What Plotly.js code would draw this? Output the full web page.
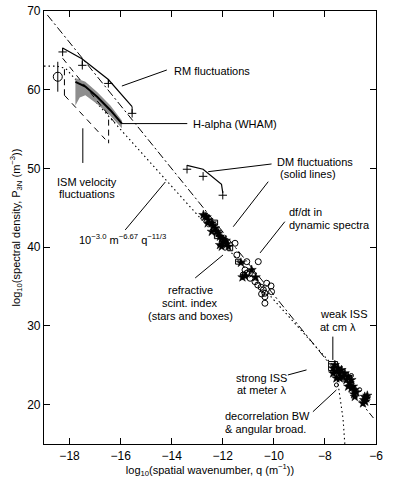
<!DOCTYPE html>
<html>
<head>
<meta charset="utf-8">
<script src="https://cdn.plot.ly/plotly-3.0.1.min.js"></script>
<style>
  body { margin: 0; background: #fff; }
  #chart { width: 399px; height: 485px; }
</style>
</head>
<body>
<div id="chart"></div>
<script>
"use strict";

// Kolmogorov-type reference lines
var dotX = [-19, -18.5, -18.15, -7.7, -7.5, -7.38, -7.29, -7.22];
var dotY = [63.0, 63.0, 62.7, 25.0, 23.0, 20.4, 18.2, 15.0];
var dashdotX = [-18.87, -6.1];
var dashdotY = [69.5, 18.3];

// RM fluctuations (line over top, markers below)
var rmX = [-18.27, -17.5, -16.48, -15.55];
var rmTop = [65.3, 63.9, 61.3, 57.85];
var rmLow = [64.8, 63.1, 60.8, 57.0];

// DM fluctuations
var dmX = [-13.4, -12.77, -12.0];
var dmTop = [50.4, 49.9, 46.9];
var dmLow = [49.9, 49.0, 46.6];

// H-alpha (WHAM) band and centre curve
var haX = [-17.77, -17.38, -16.92, -16.40, -15.95];
var haMid = [61.0, 60.4, 59.1, 57.4, 55.7];
var haUp = [61.5, 61.0, 59.7, 58.0, 56.1];
var haLowX = [-17.77, -17.6, -17.38, -16.92, -16.40, -15.95];
var haLow = [58.0, 59.0, 59.3, 58.2, 56.7, 55.1];

// ISM velocity fluctuations box (dashed)
var ismUpX = [-18.27, -16.2];
var ismUpY = [64.0, 55.7];
var ismLoX = [-18.2, -16.6];
var ismLoY = [59.3, 53.7];
var ismLeftX = [-18.2, -18.2];
var ismLeftY = [62.6, 59.3];
var ismRightX = [-16.47, -16.47];
var ismRightY = [56.2, 53.2];

// single points with error bars
var errX = [-18.46];
var errY = [61.65];
var errE = [1.9];
var capX = [-11.84, -8.2];
var capY = [43.7, 24.9];

// refractive scintillation index: stars and boxes
var starX = [-12.76, -12.69, -12.63, -12.56, -12.59, -12.43, -12.37, -12.30, -12.43, -12.23,
  -12.17, -12.11, -12.04, -11.98, -11.94, -11.88, -11.84, -12.11, -12.04, -11.78,
  -11.29, -10.87, -10.71, -11.13, -11.23,
  -7.68, -7.61, -7.55, -7.48, -7.42, -7.35, -7.29, -7.22, -7.16, -7.09,
  -7.03, -6.96, -6.90, -6.96, -7.09, -6.83, -6.77, -6.86, -6.83, -7.68,
  -7.55, -7.42, -6.44, -6.38, -6.42, -6.47, -6.34, -6.51];
var starY = [44.09, 43.88, 43.80, 43.46, 43.04, 43.04, 42.70, 42.40, 41.97, 41.97,
  41.77, 41.34, 41.13, 40.92, 40.57, 40.83, 40.41, 40.28, 40.07, 40.07,
  38.03, 37.11, 36.18, 36.35, 36.18,
  24.62, 25.04, 24.2, 24.62, 23.98, 24.4, 23.56, 23.98, 23.14, 23.56,
  22.72, 23.14, 22.3, 22.09, 22.3, 21.87, 21.57, 21.32, 21.0, 23.98,
  23.35, 23.35, 21.0, 20.8, 20.38, 20.59, 21.14, 20.17];
var boxX = [-12.30, -12.23, -11.71, -11.40];
var boxY = [43.12, 41.4, 39.86, 38.16];
var weakX = [-7.68];
var weakY = [24.9];

// df/dt in dynamic spectra: open circles
var circX = [-11.52, -10.61, -11.45, -11.06, -11.13, -11.06, -10.93, -10.74, -10.63, -10.50,
  -10.41, -10.35, -10.48, -10.28, -10.11, -10.09, -10.35, -10.35, -11.2, -10.96];
var circY = [40.50, 38.16, 39.01, 38.16, 37.11, 36.69, 36.05, 35.62, 35.20, 34.91,
  34.57, 34.15, 34.06, 35.42, 35.08, 34.35, 33.7, 32.88, 36.47, 36.6];

// decorrelation bandwidth / angular broadening
var decX = [-7.55, -6.96, -6.64];
var decY = [22.5, 23.7, 21.9];

// DM structure-function pieces (short solid lines)
var curl1X = [-11.35, -11.22, -11.18];
var curl1Y = [38.4, 38.2, 37.8];
var curl2X = [-10.9, -10.78, -10.75];
var curl2Y = [37.4, 37.2, 36.8];

var K = 'black';
function ln(x, y, dash, w) {
  return {x: x, y: y, mode: 'lines', line: {color: K, width: w || 1, dash: dash || 'solid'},
          hoverinfo: 'skip', showlegend: false};
}

var traces = [];
traces.push(ln(dotX, dotY, '1.5px,3px', 1.1));
traces.push(ln(dashdotX, dashdotY, '8px,3px,2px,3px', 1));

traces.push({
  x: haX.concat(haLowX.slice().reverse()),
  y: haUp.concat(haLow.slice().reverse()),
  mode: 'lines', fill: 'toself', fillcolor: '#8e8e8e',
  line: {width: 0, color: '#8e8e8e'}, hoverinfo: 'skip', showlegend: false
});
traces.push(ln(haX, haMid, 'solid', 2));

traces.push(ln(ismUpX, ismUpY, '6px,5px', 1));
traces.push(ln(ismLoX, ismLoY, '6px,5px', 1));
traces.push(ln(ismLeftX, ismLeftY, '6px,4px', 1));
traces.push(ln(ismRightX, ismRightY, '6px,4px', 1));

traces.push(ln(rmX, rmTop, 'solid', 1.2));
traces.push({
  x: rmX, y: rmLow, mode: 'markers',
  marker: {symbol: 'cross-thin-open', size: 6, color: K, line: {color: K, width: 1}},
  error_y: {type: 'data', symmetric: false,
            array: rmTop.map(function (t, i) { return t - rmLow[i]; }),
            arrayminus: rmTop.map(function () { return 0; }),
            color: K, thickness: 1, width: 0},
  hoverinfo: 'skip', showlegend: false
});

traces.push(ln(dmX.slice(0, 2).concat([-12.05, -12.0]), dmTop.slice(0, 2).concat([48.0, dmTop[2]]), 'solid', 1.2));
traces.push({
  x: dmX, y: dmLow, mode: 'markers',
  marker: {symbol: 'cross-thin-open', size: 6, color: K, line: {color: K, width: 1}},
  hoverinfo: 'skip', showlegend: false
});

traces.push({
  x: errX, y: errY, mode: 'markers',
  marker: {symbol: 'circle-open', size: 9, color: K, line: {width: 1}},
  error_y: {type: 'data', array: errE, color: K, thickness: 1, width: 0},
  hoverinfo: 'skip', showlegend: false
});
traces.push({
  x: capX, y: capY, mode: 'markers',
  marker: {symbol: 'line-ew', size: 1, color: K, line: {width: 0}},
  error_y: {type: 'data', value: 0.6, color: K, thickness: 1, width: 2},
  hoverinfo: 'skip', showlegend: false
});

traces.push({
  x: starX, y: starY, mode: 'markers',
  marker: {symbol: 'star', size: 7, color: K, line: {width: 0.5, color: K}},
  hoverinfo: 'skip', showlegend: false
});
traces.push({
  x: boxX, y: boxY, mode: 'markers',
  marker: {symbol: 'square-open', size: 5, color: K, line: {width: 1}},
  hoverinfo: 'skip', showlegend: false
});
traces.push({
  x: weakX, y: weakY, mode: 'markers',
  marker: {symbol: 'square-open', size: 9, color: K, line: {width: 1}},
  hoverinfo: 'skip', showlegend: false
});
traces.push({
  x: circX, y: circY, mode: 'markers',
  marker: {symbol: 'circle-open', size: 6, color: K, line: {width: 1}},
  hoverinfo: 'skip', showlegend: false
});
traces.push({
  x: decX, y: decY, mode: 'markers',
  marker: {symbol: 'circle-open', size: 4, color: K, line: {width: 1}},
  error_y: {type: 'data', value: 0.4, color: K, thickness: 1, width: 0},
  hoverinfo: 'skip', showlegend: false
});
traces.push(ln(curl1X, curl1Y, 'solid', 1));
traces.push(ln(curl2X, curl2Y, 'solid', 1));

// leader lines for the labels
function lead(x0, y0, x1, y1) {
  return {type: 'line', xref: 'x', yref: 'y', x0: x0, y0: y0, x1: x1, y1: y1,
          line: {color: K, width: 1}};
}
var shapes = [
  lead(-15.95, 60.47, -14.19, 62.51),
  lead(-15.95, 55.7, -13.39, 55.7),
  lead(-17.48, 55.1, -17.48, 50.7),
  lead(-12.57, 49.59, -10.09, 50.57),
  lead(-10.22, 48.32, -11.59, 42.6),
  lead(-10.54, 39.27, -9.57, 43.24),
  lead(-13.08, 36.09, -11.99, 39.01),
  lead(-15.82, 42.19, -14.25, 48.28),
  lead(-7.69, 28.64, -7.69, 25.68),
  lead(-9.45, 23.77, -8.72, 24.41),
  lead(-8.47, 19.1, -7.55, 21.87)
];

var F = {family: 'Liberation Sans, Arial, sans-serif', size: 11, color: K};
function note(x, y, text, anchor) {
  return {xref: 'x', yref: 'y', x: x, y: y, text: text, showarrow: false,
          xanchor: anchor || 'left', font: F};
}
var annotations = [
  note(-13.98, 62.38, 'RM fluctuations'),
  note(-13.24, 55.6, 'H-alpha (WHAM)'),
  note(-17.3, 48.3, 'ISM velocity', 'center'),
  note(-17.3, 46.75, 'fluctuations', 'center'),
  note(-9.96, 50.86, 'DM fluctuations'),
  note(-9.84, 49.3, '(solid lines)'),
  note(-9.49, 44.47, 'df/dt in'),
  note(-9.49, 42.82, 'dynamic spectra'),
  note(-15.93, 41.1, '10<sup>−3.0</sup> m<sup>−6.67</sup> q<sup>−11/3</sup>', 'center'),
  note(-13.27, 34.5, 'refractive', 'center'),
  note(-13.27, 32.9, 'scint. index', 'center'),
  note(-13.27, 31.3, '(stars and boxes)', 'center'),
  note(-8.28, 31.45, 'weak ISS'),
  note(-8.28, 29.85, 'at cm λ'),
  note(-10.5, 23.35, 'strong ISS', 'center'),
  note(-10.5, 21.8, 'at meter λ', 'center'),
  note(-12.0, 18.55, 'decorrelation BW'),
  note(-12.0, 16.95, '& angular broad.')
];

var axisCommon = {
  showgrid: false, zeroline: false, showline: true, mirror: 'ticks',
  linecolor: K, linewidth: 1.2, ticks: 'inside', ticklen: 6, tickwidth: 1,
  tickcolor: K, tickfont: {family: F.family, size: 12, color: K}
};

var layout = {
  width: 399, height: 485,
  margin: {l: 44, r: 23, t: 11, b: 41},
  paper_bgcolor: 'white', plot_bgcolor: 'white',
  showlegend: false,
  xaxis: Object.assign({}, axisCommon, {
    range: [-19, -6], tickvals: [-18, -16, -14, -12, -10, -8, -6],
    title: {text: 'log<sub>10</sub>(spatial wavenumber, q (m<sup>−1</sup>))',
            font: {family: F.family, size: 11, color: K}, standoff: 4}
  }),
  yaxis: Object.assign({}, axisCommon, {
    range: [15, 70], tickvals: [20, 30, 40, 50, 60, 70],
    title: {text: 'log<sub>10</sub>(spectral density, P<sub>3N</sub> (m<sup>−3</sup>))',
            font: {family: F.family, size: 11, color: K}, standoff: 4}
  }),
  shapes: shapes,
  annotations: annotations
};

Plotly.newPlot('chart', traces, layout, {displayModeBar: false});
</script>
</body>
</html>
